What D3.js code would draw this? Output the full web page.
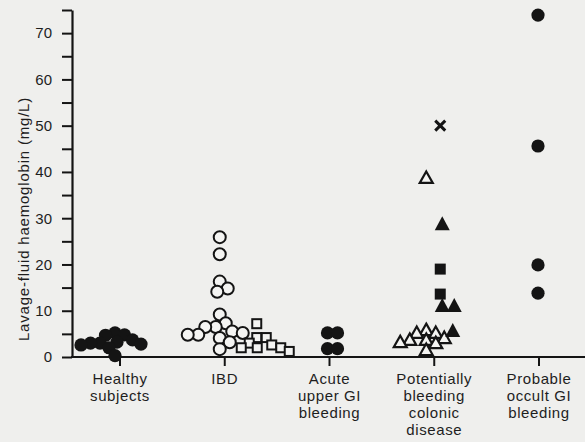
<!DOCTYPE html>
<html>
<head>
<meta charset="utf-8">
<script src="https://cdn.jsdelivr.net/npm/d3@7"></script>
<style>
  html, body { margin: 0; padding: 0; background: #efefed; }
  svg { display: block; }
  text { font-family: "Liberation Sans", Arial, Helvetica, sans-serif; fill: #1e1e1e; }
</style>
</head>
<body>
<svg id="chart" width="585" height="442"></svg>
<script>
// ---------------- data ----------------
const categories = ["Healthy subjects", "IBD", "Acute upper GI bleeding",
  "Potentially bleeding colonic disease", "Probable occult GI bleeding"];
const categoryLabelLines = [
  ["Healthy", "subjects"],
  ["IBD"],
  ["Acute", "upper GI", "bleeding"],
  ["Potentially", "bleeding", "colonic", "disease"],
  ["Probable", "occult GI", "bleeding"]
];
const yTickValues = [0, 5, 10, 15, 20, 25, 30, 35, 40, 45, 50, 55, 60, 65, 70, 75];
const yTickLabels = ["0", "", "10", "", "20", "", "30", "", "40", "", "50", "", "60", "", "70", ""];
const yAxisTitle = "Lavage-fluid haemoglobin (mg/L)";

const healthyValues = [5.2, 4.8, 4.7, 3.7, 3.2, 3.0, 3.0, 2.8, 2.6, 2.0, 0.3];
const ibdCircleValues = [25.9, 22.2, 16.3, 14.8, 14.1, 9.2, 7.3, 6.5, 6.5, 5.5, 5.2, 4.8, 4.8, 4.1, 3.2, 1.7];
const ibdSquareValues = [7.2, 4.2, 4.2, 3.0, 2.6, 2.0, 2.0, 2.0, 1.2];
const acuteValues = [5.2, 5.2, 1.8, 1.8];
const colonicOpenTriangleValues = [38.7, 5.8, 5.2, 5.2, 4.1, 3.7, 3.7, 3.2, 3.0, 1.5];
const colonicFilledTriangleValues = [28.7, 11.0, 11.0, 5.6];
const colonicFilledSquareValues = [19.0, 13.6];
const colonicCrossValues = [50.0];
const occultValues = [73.9, 45.6, 19.9, 13.8];

// series: which category, which values, which marker
const series = [
  { category: categories[0], values: healthyValues, marker: "circleFilled" },
  { category: categories[1], values: ibdCircleValues, marker: "circleOpen" },
  { category: categories[1], values: ibdSquareValues, marker: "squareOpen" },
  { category: categories[2], values: acuteValues, marker: "circleFilled" },
  { category: categories[3], values: colonicOpenTriangleValues, marker: "triangleOpen" },
  { category: categories[3], values: colonicFilledTriangleValues, marker: "triangleFilled" },
  { category: categories[3], values: colonicFilledSquareValues, marker: "squareFilled" },
  { category: categories[3], values: colonicCrossValues, marker: "cross" },
  { category: categories[4], values: occultValues, marker: "circleFilled" }
];

// ---------------- layout / style ----------------
const ink = "#141414";
const svg = d3.select("#chart");

const y = d3.scaleLinear().domain([0, 75]).range([357, 10]);
const x = d3.scalePoint().domain(categories).range([118, 537]);

// per-series swarm centre shift and collision radius (layout styling)
const swarmStyle = [
  { shift: -3, collide: 4.7 },
  { shift: -3, collide: 5.2 },
  { shift: 34, collide: 4.6 },
  { shift: 0, collide: 5 },
  { shift: -6, collide: 4.8 },
  { shift: 10, collide: 6 },
  { shift: 8, collide: 5 },
  { shift: 8, collide: 5 },
  { shift: 1, collide: 6 }
];

// build points
const points = [];
series.forEach((s, si) => {
  s.values.forEach(v => points.push({
    si, category: s.category, value: v, marker: s.marker,
    center: x(s.category) + swarmStyle[si].shift,
    cr: swarmStyle[si].collide
  }));
});

// simple dodge per category
categories.forEach(c => {
  const pts = points.filter(p => p.category === c);
  const placed = [];
  pts.forEach(p => {
    const py = y(p.value);
    let bx = null;
    for (let d = 0; d < 200 && bx === null; d += 0.5) {
      const cands = d === 0 ? [0] : [d, -d];
      for (const s of cands) {
        const cx = p.center + s;
        if (placed.every(q => Math.hypot(q.x - cx, q.y - py) >= p.cr + q.cr - 0.01)) { bx = cx; break; }
      }
    }
    p.x = bx; p.y = py;
    placed.push(p);
  });
});

// ---------------- axes ----------------
const yAxis = d3.axisLeft(y)
  .tickValues(yTickValues)
  .tickSize(10)
  .tickSizeOuter(0)
  .tickPadding(10)
  .tickFormat((d, i) => yTickLabels[i]);

const gy = svg.append("g").attr("transform", "translate(72,0)").call(yAxis);
gy.select(".domain").attr("stroke", ink).attr("stroke-width", 2.2);
gy.selectAll(".tick line").attr("stroke", ink).attr("stroke-width", 2);
gy.selectAll(".tick text")
  .style("font-size", "15px")
  .style("font-family", "'Liberation Sans', Arial, sans-serif")
  .attr("fill", "#222");

// x axis baseline
svg.append("line")
  .attr("x1", 71).attr("x2", 585)
  .attr("y1", y(0)).attr("y2", y(0))
  .attr("stroke", ink).attr("stroke-width", 2.2);

// category ticks
svg.append("g").selectAll("line").data(categories).join("line")
  .attr("x1", d => x(d) + 2).attr("x2", d => x(d) + 2)
  .attr("y1", y(0)).attr("y2", y(0) + 9)
  .attr("stroke", ink).attr("stroke-width", 2);

// category labels
const lab = svg.append("g").selectAll("text").data(categories).join("text")
  .attr("text-anchor", "middle")
  .style("font-size", "15px")
  .style("letter-spacing", "0.6px");
lab.each(function (d, i) {
  d3.select(this).selectAll("tspan").data(categoryLabelLines[i]).join("tspan")
    .attr("x", x(d) + 2)
    .attr("y", (t, j) => 384 + j * 17)
    .text(t => t);
});

// y title
svg.append("text")
  .attr("transform", "translate(29,219) rotate(-90)")
  .attr("text-anchor", "middle")
  .style("font-size", "15px")
  .style("letter-spacing", "0.8px")
  .text(yAxisTitle);

// ---------------- marks ----------------
const g = svg.append("g");
points.forEach(p => {
  switch (p.marker) {
    case "circleFilled":
      g.append("circle").attr("cx", p.x).attr("cy", p.y).attr("r", 6.6).attr("fill", ink);
      break;
    case "circleOpen":
      g.append("circle").attr("cx", p.x).attr("cy", p.y).attr("r", 6)
        .attr("fill", "#f4f4f2").attr("stroke", ink).attr("stroke-width", 2);
      break;
    case "squareOpen":
      g.append("rect").attr("x", p.x - 4.5).attr("y", p.y - 4.5).attr("width", 9).attr("height", 9)
        .attr("fill", "#f4f4f2").attr("stroke", ink).attr("stroke-width", 2);
      break;
    case "squareFilled":
      g.append("rect").attr("x", p.x - 5.5).attr("y", p.y - 5.5).attr("width", 11).attr("height", 11)
        .attr("fill", ink);
      break;
    case "triangleOpen":
      g.append("path").attr("d", `M${p.x},${p.y - 6.5}L${p.x + 6.5},${p.y + 5}L${p.x - 6.5},${p.y + 5}Z`)
        .attr("fill", "#f4f4f2").attr("stroke", ink).attr("stroke-width", 2.2).attr("stroke-linejoin", "miter");
      break;
    case "triangleFilled":
      g.append("path").attr("d", `M${p.x},${p.y - 8}L${p.x + 7.5},${p.y + 6}L${p.x - 7.5},${p.y + 6}Z`)
        .attr("fill", ink);
      break;
    case "cross":
      g.append("path").attr("d", `M${p.x - 5},${p.y - 5}L${p.x + 5},${p.y + 5}M${p.x + 5},${p.y - 5}L${p.x - 5},${p.y + 5}`)
        .attr("stroke", ink).attr("stroke-width", 3);
      break;
  }
});
</script>
</body>
</html>
